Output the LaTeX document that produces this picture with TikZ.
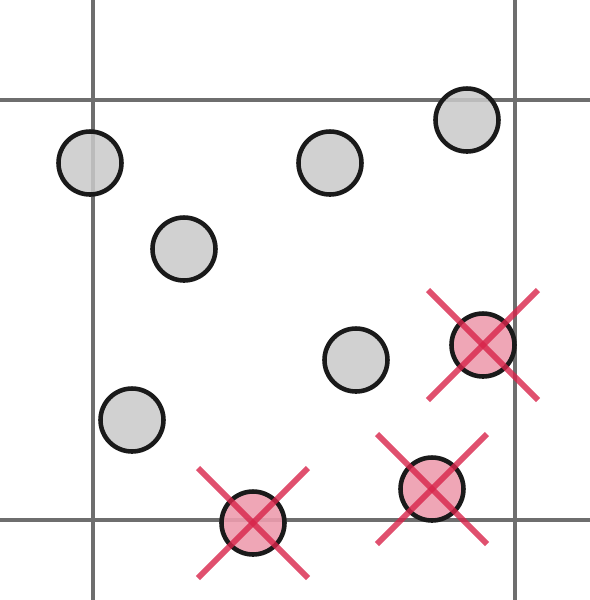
\documentclass[tikz,border=0pt]{standalone}
\usepackage{tikz}
\usetikzlibrary{calc}
\definecolor{gridgray}{HTML}{6E6E6E}
\definecolor{dotfill}{HTML}{C9C9C9}
\definecolor{dotline}{HTML}{1A1A1A}
\definecolor{crossred}{HTML}{D8244A}
\tikzset{
  gridline/.style={
    draw=gridgray,
    line width=2.6pt
  },
  dotnode/.style={
    circle,
    draw=dotline,
    fill=dotfill,
    fill opacity=0.85,
    line width=2.6pt,
    minimum size=1.26cm,
    inner sep=0pt
  },
  crossnode/.style={
    dotnode,
    fill=crossred!45,
    fill opacity=0.9
  },
  crossline/.style={
    draw=crossred,
    draw opacity=0.8,
    line width=3.4pt
  }
}
\begin{document}
\begin{tikzpicture}[x=0.02cm,y=-0.02cm]
\useasboundingbox (0,0) rectangle (590,600);

% grid
\draw[gridline] (93,0) -- (93,600);
\draw[gridline] (515,0) -- (515,600);
\draw[gridline] (0,100) -- (590,100);
\draw[gridline] (0,520) -- (590,520);

% kept points
\node[dotnode] (p1) at (90,163) {};
\node[dotnode] (p2) at (330,163) {};
\node[dotnode] (p3) at (467,120) {};
\node[dotnode] (p4) at (184,249) {};
\node[dotnode] (p5) at (356,360) {};
\node[dotnode] (p6) at (132,420) {};

% rejected points
\node[crossnode] (r1) at (483,345) {};
\node[crossnode] (r2) at (432,489) {};
\node[crossnode] (r3) at (253,523) {};

\foreach \r in {r1,r2,r3}{
  \draw[crossline] ($(\r)+(-55,-55)$) -- ($(\r)+(55,55)$);
  \draw[crossline] ($(\r)+(55,-55)$) -- ($(\r)+(-55,55)$);
}
\end{tikzpicture}
\end{document}
